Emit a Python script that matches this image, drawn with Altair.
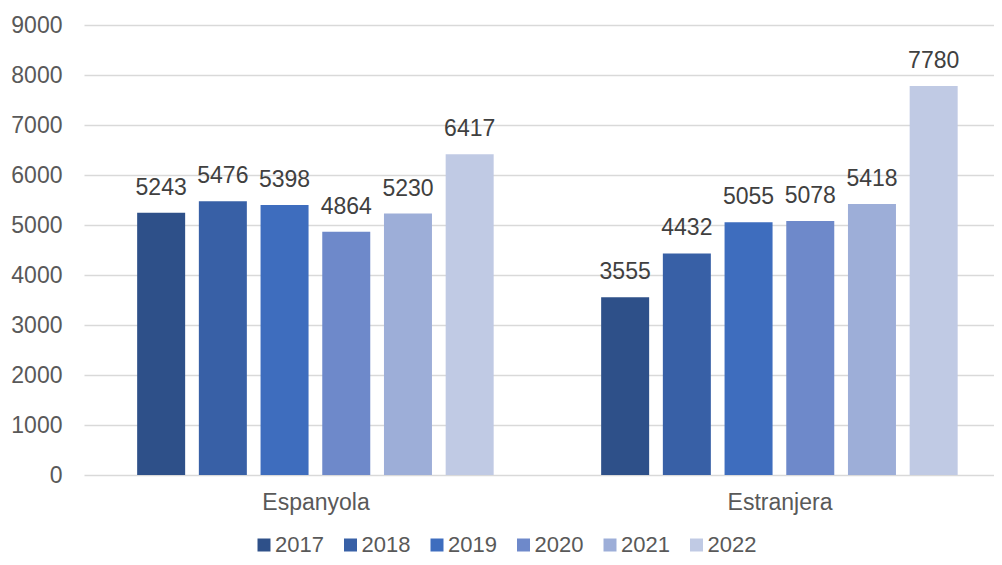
import altair as alt
import pandas as pd

categories = ["Espanyola", "Estranjera"]
years = ["2017", "2018", "2019", "2020", "2021", "2022"]
espanyola = [5243, 5476, 5398, 4864, 5230, 6417]
estranjera = [3555, 4432, 5055, 5078, 5418, 7780]
colors = ["#2E5089", "#3860A6", "#3E6DBE", "#6E89CA", "#9DAED8", "#C0CAE4"]

rows = []
for cat, vals in zip(categories, [espanyola, estranjera]):
    for y, v in zip(years, vals):
        rows.append({"cat": cat, "year": y, "value": v})
df = pd.DataFrame(rows)

FONT = "Liberation Sans"

x = alt.X("cat:N", sort=categories, title=None,
          scale=alt.Scale(paddingInner=0.0388, paddingOuter=0, round=False),
          axis=alt.Axis(domain=False, ticks=False, labelFontSize=23, labelColor="#595959",
                        labelFont=FONT, labelPadding=16, labelAngle=0, grid=False,
                        labelOffset=9))
xo = alt.XOffset("year:N", sort=years,
                 scale=alt.Scale(paddingInner=0.222, paddingOuter=0.725, align=0.594,
                                 round=False))
y = alt.Y("value:Q", title=None,
          scale=alt.Scale(domain=[0, 9000], nice=False),
          axis=alt.Axis(values=list(range(0, 9001, 1000)), format="d", domain=False, ticks=False,
                        labelFontSize=23, labelColor="#595959", labelFont=FONT,
                        labelPadding=22, gridColor="#D9D9D9", gridWidth=1.3))

color = alt.Color("year:N", sort=years,
                  scale=alt.Scale(domain=years, range=colors),
                  legend=alt.Legend(title=None, orient="none", direction="horizontal",
                                    legendX=169, legendY=509,
                                    symbolType="square", symbolSize=169, symbolStrokeWidth=0,
                                    labelFontSize=22, labelColor="#595959", labelFont=FONT,
                                    labelOffset=0, columnPadding=15.5, symbolOpacity=1))

base = alt.Chart(df).encode(x=x, xOffset=xo, y=y)

bars = base.mark_bar(size=48).encode(color=color)
labels = base.mark_text(baseline="bottom", dy=-13, fontSize=23, font=FONT,
                        color="#404040").encode(text=alt.Text("value:Q", format="d"))

chart = (bars + labels).properties(
    width=910, height=450,
    autosize=alt.AutoSizeParams(type="none"),
    padding={"left": 76, "top": 17, "right": 0, "bottom": 82},
).configure_view(stroke=None)

chart.save("out.html", embed_options={"renderer": "svg", "actions": False})
